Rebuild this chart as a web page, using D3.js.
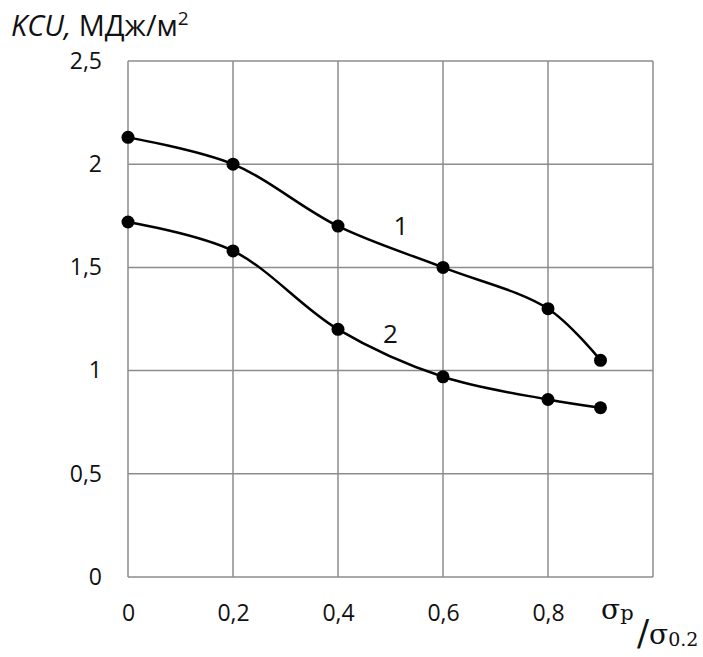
<!DOCTYPE html>
<html>
<head>
<meta charset="utf-8">
<script src="https://cdn.jsdelivr.net/npm/d3@7"></script>
<style>
  body { margin: 0; background: #fff; }
  svg { display: block; font-family: 'Open Sans', 'Liberation Sans', sans-serif; }
</style>
</head>
<body>
<svg width="703" height="657"></svg>
<script>
'use strict';

/* Data. */
var ratio = [0, 0.2, 0.4, 0.6, 0.8, 0.9];
var curve1 = [2.13, 2.0, 1.7, 1.5, 1.3, 1.05];
var curve2 = [1.72, 1.58, 1.2, 0.97, 0.86, 0.82];
var xTicks = [0, 0.2, 0.4, 0.6, 0.8];
var yTicks = [0, 0.5, 1, 1.5, 2, 2.5];
var curveLabels = [
  {text: '1', x: 0.52, y: 1.7},
  {text: '2', x: 0.5, y: 1.18}
];

var svg = d3.select('svg');
var margin = {top: 61, right: 50, bottom: 80, left: 128};
var width = 703 - margin.left - margin.right;
var height = 657 - margin.top - margin.bottom;

var x = d3.scaleLinear().domain([0, 1]).range([0, width]);
var y = d3.scaleLinear().domain([0, 2.5]).range([height, 0]);

var fmt = function (d) { return String(d).replace('.', ','); };

var group = svg.append('g')
  .attr('transform', 'translate(' + margin.left + ',' + margin.top + ')');

/* Grid. */
group.append('g')
  .selectAll('line')
  .data(xTicks.concat([1]))
  .enter().append('line')
  .attr('x1', x).attr('x2', x)
  .attr('y1', 0).attr('y2', height)
  .attr('stroke', '#8c8c8c').attr('stroke-width', 1.5);

group.append('g')
  .selectAll('line')
  .data(yTicks)
  .enter().append('line')
  .attr('x1', 0).attr('x2', width)
  .attr('y1', y).attr('y2', y)
  .attr('stroke', '#8c8c8c').attr('stroke-width', 1.5);

/* Axes (labels only). */
var xAxis = group.append('g')
  .attr('transform', 'translate(0,' + height + ')')
  .call(d3.axisBottom(x).tickValues(xTicks).tickFormat(fmt).tickSize(0).tickPadding(28));
var yAxis = group.append('g')
  .call(d3.axisLeft(y).tickValues(yTicks).tickFormat(fmt).tickSize(0).tickPadding(26));

[xAxis, yAxis].forEach(function (a) {
  a.select('.domain').remove();
  a.selectAll('text')
    .attr('fill', '#111')
    .style('font-size', '23px')
    .style('font-family', "'Open Sans', 'Liberation Sans', sans-serif");
});

/* Curves. */
var line = d3.line()
  .x(function (d) { return x(d[0]); })
  .y(function (d) { return y(d[1]); })
  .curve(d3.curveCatmullRom.alpha(0.5));

[curve1, curve2].forEach(function (values) {
  var pts = ratio.map(function (r, i) { return [r, values[i]]; });
  group.append('path')
    .datum(pts)
    .attr('d', line)
    .attr('fill', 'none')
    .attr('stroke', '#000')
    .attr('stroke-width', 2.5);
  group.append('g')
    .selectAll('circle')
    .data(pts)
    .enter().append('circle')
    .attr('cx', function (d) { return x(d[0]); })
    .attr('cy', function (d) { return y(d[1]); })
    .attr('r', 6.5)
    .attr('fill', '#000');
});

group.append('g')
  .selectAll('text')
  .data(curveLabels)
  .enter().append('text')
  .attr('x', function (d) { return x(d.x); })
  .attr('y', function (d) { return y(d.y); })
  .attr('text-anchor', 'middle')
  .attr('dy', '0.35em')
  .attr('fill', '#111')
  .style('font-size', '26px')
  .text(function (d) { return d.text; });

/* Y title. */
var title = svg.append('text')
  .attr('x', 11)
  .attr('y', 36)
  .attr('fill', '#111')
  .style('font-size', '29px');
title.append('tspan').style('font-style', 'italic').text('KCU,');
title.append('tspan').text(' МДж/м');
title.append('tspan').attr('dy', -11).style('font-size', '19px').text('2');

/* X title. */
var xt = svg.append('g')
  .style('font-family', "'DejaVu Serif', 'Liberation Serif', serif")
  .attr('fill', '#111');
xt.append('text').attr('x', 601).attr('y', 619).style('font-size', '28px')
  .text('σ').append('tspan').attr('dy', 1).style('font-size', '21px').text('p');
xt.append('text').attr('x', 637).attr('y', 645).style('font-size', '36px').text('/');
xt.append('text').attr('x', 649).attr('y', 644).style('font-size', '28px')
  .text('σ').append('tspan').attr('dy', 2).style('font-size', '19px').text('0.2');
</script>
</body>
</html>
